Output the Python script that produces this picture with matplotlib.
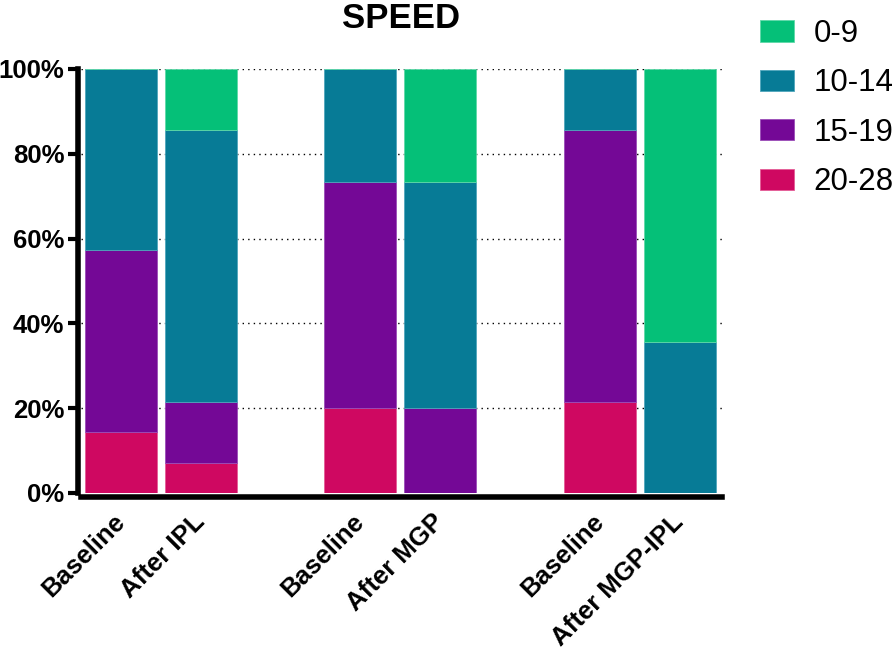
import matplotlib
matplotlib.use("Agg")
import matplotlib.pyplot as plt
import numpy as np

plt.rcParams['font.family'] = ['Liberation Sans', 'DejaVu Sans']

groups = ["Baseline", "After IPL", "Baseline", "After MGP", "Baseline", "After MGP-IPL"]
positions = [0, 1, 3, 4, 6, 7]
series_names = ["0-9", "10-14", "15-19", "20-28"]
v_0_9   = [0.0, 14.3, 0.0, 26.7, 0.0, 64.3]
v_10_14 = [42.9, 64.3, 26.7, 53.3, 14.3, 35.7]
v_15_19 = [42.9, 14.3, 53.3, 20.0, 64.3, 0.0]
v_20_28 = [14.3, 7.1, 20.0, 0.0, 21.4, 0.0]
colors = ["#05C078", "#077B96", "#740896", "#CF0861"]
edges = ["#5FD9A8", "#4FA6BC", "#9A4DB8", "#E45C96"]

fig = plt.figure(figsize=(8.94, 6.54), dpi=100)
ax = fig.add_axes([81/894, 1-493/654, (722-81)/894, (493-69)/654])

for s in ['top', 'right']:
    ax.spines[s].set_visible(False)
ax.spines['bottom'].set_position(('outward', 3))
ax.spines['left'].set_position(('outward', 2))
for s in ['left', 'bottom']:
    ax.spines[s].set_linewidth(4)

stack_order = [(v_20_28, 3), (v_15_19, 2), (v_10_14, 1), (v_0_9, 0)]
bottom = np.zeros(len(positions))
handles = {}
for vals, ci in stack_order:
    vals = np.array(vals)
    b = ax.bar(positions, vals, width=0.9, bottom=bottom, color=colors[ci],
               edgecolor=edges[ci], linewidth=0.6, zorder=3, label=series_names[ci])
    handles[ci] = b
    bottom += vals

ax.set_xlim(-0.5, 7.53)
ax.set_ylim(0, 100)
ax.set_yticks([0, 20, 40, 60, 80, 100])
ax.set_yticklabels(["0%", "20%", "40%", "60%", "80%", "100%"], fontsize=18.5, fontweight='bold')
ax.set_xticks(positions)
ax.set_xticklabels(groups, fontsize=18.5, fontweight='bold', rotation=45,
                   ha='right', va='center', rotation_mode='anchor')
ax.tick_params(axis='x', length=0, pad=15)
ax.tick_params(axis='y', length=7, width=3, pad=3)

for y in [20, 40, 60, 80, 100]:
    ax.axhline(y, color='black', linestyle=(0, (1, 3)), linewidth=1.0, zorder=1)

ax.set_title("SPEED", fontsize=25, fontweight='bold', pad=29.5)

leg_h = [handles[i] for i in range(4)]
fig.legend(leg_h, series_names, loc='upper left', bbox_to_anchor=(760/894, 1-19/654),
           frameon=False, fontsize=22.5, handlelength=1.09, handleheight=0.67,
           handletextpad=0.62, labelspacing=0.62, borderaxespad=0, borderpad=0)

fig.savefig("out.png", dpi=100)
